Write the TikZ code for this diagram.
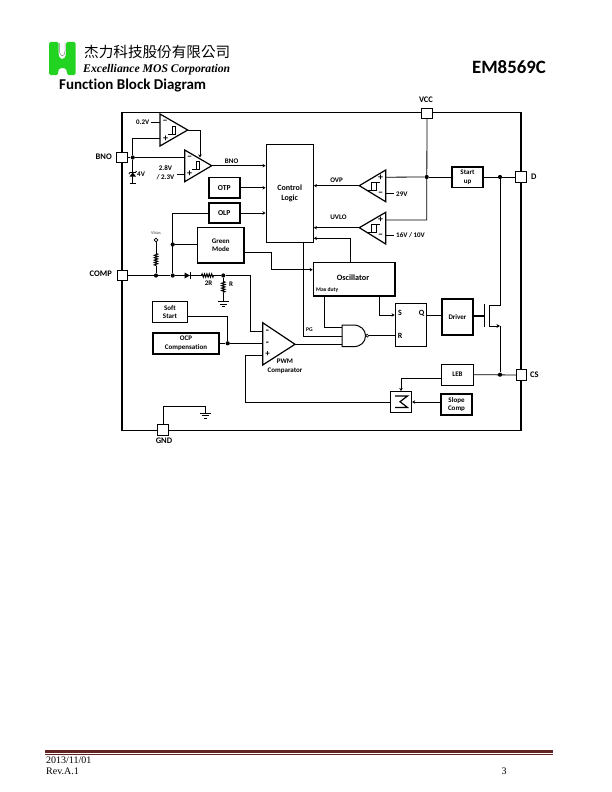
\documentclass[tikz,border=0pt]{standalone}
\usepackage{fontspec}
\setmainfont[Ligatures=NoCommon]{Carlito}
\newfontfamily\serfont{Liberation Serif}
\newfontfamily\cjkfont{Noto Sans CJK TC}
\usetikzlibrary{arrows.meta}
\usetikzlibrary{calc}
\usetikzlibrary{decorations.pathmorphing}
\definecolor{logogreen}{HTML}{22D322}
\definecolor{rulered}{HTML}{622423}
\tikzset{
  pinbox/.style={draw,fill=white,line width=0.8pt,minimum width=10.5pt,minimum height=10.5pt,inner sep=0pt},
  thinbox/.style={draw,line width=0.9pt,inner sep=0pt,align=center,font=\bfseries\fontsize{7}{8.2}\selectfont},
  fatbox/.style={thinbox,line width=1.6pt},
  lab/.style={inner sep=0pt,align=center,font=\bfseries\fontsize{7}{8.6}\selectfont},
  signlab/.style={inner sep=0pt,font=\bfseries\fontsize{10}{10}\selectfont},
  tinylab/.style={inner sep=0pt,font=\bfseries\fontsize{5.6}{6.5}\selectfont},
  pinlab/.style={inner sep=0pt,font=\bfseries\fontsize{8.5}{10}\selectfont},
  dot/.style={circle,fill=black,inner sep=0pt,minimum size=4.2pt},
  wire/.style={line width=0.8pt},
  sig/.style={wire,-{Stealth[length=3pt,width=3.5pt]}},
  tri/.style={line width=1.2pt,line join=miter},
  res/.style={line width=1pt,decorate,decoration={zigzag,segment length=2.4pt,amplitude=1.7pt}}
}
% hysteresis mark inside a comparator, #1 is its lower right reference point
\newcommand{\hystright}[1]{\draw[line width=0.8pt] ($(#1)+(-8,5)$) -- ++(4,0) -- ++(0,-8) -- ++(4,0) ++(-4,8) -- ++(3,0) -- ++(0,-8);}
\newcommand{\gnd}[1]{\draw[line width=1pt] ($(#1)+(-5.5,0)$) -- ++(11,0) ($(#1)+(-3.5,2.5)$) -- ++(7,0) ($(#1)+(-1.5,5)$) -- ++(3,0);}
\begin{document}
\begin{tikzpicture}[x=1pt,y=-1pt]
 \useasboundingbox (0,0) rectangle (612,792);
 \fill[white] (0,0) rectangle (612,792);

 % heading
 \fill[logogreen,rounded corners=1.5pt] (49,42) -- (58.5,42) -- (58.5,52) .. controls (59,61) and (65.5,61) .. (66,52) -- (66,42) -- (75.7,42) -- (75.7,75) -- (67,75) -- (67,71) .. controls (65,67.5) and (60,67.5) .. (58,71) -- (58,75) -- (49,75) -- cycle;
 \draw[gray,line width=0.5pt] (59.5,43) -- (59.5,51) .. controls (60,57.5) and (64.5,57.5) .. (65,51) -- (65,43);
 \node[inner sep=0pt,anchor=west] (zhname) at (84,52) {\cjkfont\fontsize{14.6}{16}\selectfont 杰力科技股份有限公司};
 \node[inner sep=0pt,anchor=west] (enname) at (83,70) {\serfont\bfseries\itshape\fontsize{11.7}{13}\selectfont Excelliance MOS Corporation};
 \node[inner sep=0pt,anchor=west] (title) at (59,85.5) {\bfseries\fontsize{15}{17}\selectfont Function Block Diagram};
 \node[inner sep=0pt,anchor=east] (partno) at (546,67) {\bfseries\fontsize{18.8}{20}\selectfont EM8569C};

 % package outline
 \draw[line width=0.9pt] (122,112.5) -- (521,112.5);
 \draw[line width=0.9pt] (122,430) -- (521,430);
 \draw[line width=1.4pt] (122,112) -- (122,430.5);
 \draw[line width=1.4pt] (521,112) -- (521,430.5);

 % pins
 \node[pinbox] (bno) at (122,157.5) {};
 \node[pinbox] (comp) at (122.5,275.5) {};
 \node[pinbox] (gnd) at (163,430) {};
 \node[pinbox] (vcc) at (427,113.5) {};
 \node[pinbox] (d) at (521,177) {};
 \node[pinbox] (cs) at (521.5,375) {};
 \node[pinlab,anchor=east] (bnolab) at (112,157) {BNO};
 \node[pinlab,anchor=east] (complab) at (112,274) {COMP};
 \node[pinlab] (gndlab) at (164,441) {GND};
 \node[pinlab] (vcclab) at (426,99.5) {VCC};
 \node[pinlab,anchor=west] (dlab) at (531,176.5) {D};
 \node[pinlab,anchor=west] (cslab) at (530,374.5) {CS};

 % blocks
 \node[thinbox,font=\bfseries\fontsize{8}{10}\selectfont,minimum width=47.5pt,minimum height=98.5pt] (logic) at (289.7,193.4) {Control\\Logic};
 \node[fatbox,minimum width=31pt,minimum height=20.5pt] (otp) at (224.2,187.8) {\fontsize{7.6}{8}\selectfont OTP};
 \node[fatbox,minimum width=31pt,minimum height=20.5pt] (olp) at (224.2,213) {\fontsize{7.6}{8}\selectfont OLP};
 \node[fatbox,minimum width=46.5pt,minimum height=35.5pt] (green) at (220.8,245.3) {Green\\Mode};
 \node[fatbox,minimum width=31pt,minimum height=20.5pt] (start) at (467.5,177.3) {Start\\up};
 \node[fatbox,minimum width=81.5pt,minimum height=33.5pt] (osc) at (354.2,279.2) {};
 \node[lab] (osclab) at (353,278) {\fontsize{8.2}{9}\selectfont Oscillator};
 \node[tinylab,anchor=west] (maxduty) at (316,290) {Max duty};
 \node[thinbox,minimum width=31.5pt,minimum height=42.5pt] (sr) at (410.8,325) {};
 \node[lab] (slab) at (400,313) {\fontsize{8}{9}\selectfont S};
 \node[lab] (qlab) at (421.5,313.5) {\fontsize{8}{9}\selectfont Q};
 \node[lab] (rlab) at (400,336) {\fontsize{8}{9}\selectfont R};
 \node[fatbox,minimum width=31.5pt,minimum height=36pt] (driver) at (457.5,317) {Driver};
 \node[thinbox,minimum width=31.5pt,minimum height=20.5pt] (leb) at (457.5,374.7) {LEB};
 \node[fatbox,minimum width=31.5pt,minimum height=21pt] (slope) at (456.5,404.5) {Slope\\Comp};
 \node[thinbox,minimum width=34.5pt,minimum height=20.5pt] (soft) at (170,312) {Soft\\Start};
 \node[fatbox,minimum width=66.5pt,minimum height=21pt] (ocp) at (186,343.3) {OCP\\Compensation};
 \node[thinbox,minimum width=21pt,minimum height=21pt] (sum) at (401.2,401.7) {};
 \draw[line width=1.2pt] (395,396) -- (407.5,396) -- (400,401.7) -- (407.5,407.5) -- (395,407.5);

 % junctions
 \node[dot] (jbno) at (132.7,157.5) {};
 \node[dot] (jvcc) at (426.7,177) {};
 \node[dot] (jd) at (500,177) {};
 \node[dot] (jcs) at (500,374.7) {};
 \node[dot] (jgreen) at (172.7,244.5) {};
 \node[dot] (jbias) at (156,275.5) {};
 \node[dot] (jolp) at (172.7,275.5) {};
 \node[dot] (jr) at (223.3,275.5) {};
 \node[dot] (jocp) at (227.7,343.3) {};

 % sleep comparator
 \draw[tri] (160,114) -- (187.7,130) -- (160,146) -- cycle;
 \coordinate (cmpaout) at (187.7,130);
 \hystright{176,129.5}
 \node[signlab] (cmpam) at (165,122) {--};
 \node[signlab] (cmpap) at (165.5,138.5) {+};
 \node[lab,anchor=east] (vref) at (149.5,122) {0.2V};
 \draw[wire] (151,122) -- (160,122);
 \draw[wire] (jbno) |- (160,138.3);

 % brown-out comparator
 \draw[tri] (184.7,150) -- (211.7,165.7) -- (184.7,181.7) -- cycle;
 \coordinate (cmpbout) at (211.7,165.7);
 \coordinate (cmpbin) at (200,157.5);
 \hystright{200,164}
 \node[signlab] (cmpbm) at (189.5,158) {--};
 \node[signlab] (cmpbp) at (189.5,174) {+};
 \node[lab,anchor=east] (vbno) at (174.5,172.5) {2.8V\\/ 2.3V};
 \draw[wire] (177,174) -- (184.7,174);
 \draw[wire] (bno) -- (jbno) -- (184.7,157.5);
 \draw[sig] (cmpaout) -| (cmpbin);
 \draw[sig] (cmpbout) -- (logic.west |- cmpbout) node[lab,pos=0.37,above=1.5pt] (bnoout) {BNO};

 % zener clamp
 \coordinate (zgnd) at (132.7,183);
 \draw[wire] (jbno) -- (zgnd);
 \fill (132.7,172.5) -- (129.5,176.5) -- (136,176.5) -- cycle;
 \draw[line width=0.9pt] (129,174) -- (130,172.5) -- (135.5,172.5) -- (136.5,171);
 \draw[line width=0.9pt] (129.5,183) -- (136,183);
 \node[lab,anchor=west] (zlab) at (137,174.5) {4V};

 % inputs of control logic
 \draw[sig] (otp.east) -- (logic.west |- otp.east);
 \draw[sig] (olp.east) -- (logic.west |- olp.east);
 \draw[wire] (olp.west) -| (jolp);
 \draw[wire] (jgreen) -- (green.west |- jgreen);
 \coordinate (greenout) at (244.3,252.7);
 \draw[sig] (greenout) -- (271.7,252.7) |- (osc.west |- 0,269.7);

 % bias resistor
 \node[circle,draw,line width=0.7pt,inner sep=0pt,minimum size=3.8pt] (vbias) at (156,240) {};
 \node[inner sep=0pt,text=black!70,font=\fontsize{4.4}{5}\selectfont] (vbiaslab) at (156,232.5) {Vbias};
 \draw[wire] (vbias) -- (156,253.5);
 \draw[res] (156,253.5) -- (156,265.5);
 \draw[wire] (156,265.5) -- (jbias);

 % comp line
 \coordinate (dioa) at (184.5,275.5);
 \coordinate (dioc) at (191,275.5);
 \draw[wire] (comp) -- (jbias) -- (jolp) -- (dioa);
 \fill (dioa) ++(0,-3) -- ++(5.5,3) -- ++(-5.5,3) -- cycle;
 \draw[line width=1pt] (190.5,272) -- (190.5,279);
 \draw[wire] (dioc) -- (201.5,275.5);
 \draw[res] (201.5,275.5) -- (214,275.5);
 \draw[wire] (214,275.5) -- (jr) -- (250.7,275.5) -- (250.7,331.7) -- (262.7,331.7);
 \node[lab] (rtwo) at (208.5,283) {2R};
 \node[lab] (rone) at (231,284) {R};
 \draw[wire] (jr) -- (223.3,281.5);
 \draw[res] (223.3,281.5) -- (223.3,292.5);
 \draw[wire] (223.3,292.5) -- (223.3,301.5);
 \gnd{223.3,301.5}

 % over-voltage and under-voltage comparators
 \draw[tri] (385.7,170) -- (359.3,185.7) -- (385.7,201.7) -- cycle;
 \coordinate (ovpout) at (359.3,185.7);
 \draw[line width=0.8pt] (371,190) rectangle (376,182);
 \draw[line width=0.8pt] (376,182) -- (380,182) (371,190) -- (368,190);
 \node[signlab] (ovpp) at (380.5,177.5) {+};
 \node[signlab] (ovpm) at (380.5,193.5) {--};
 \draw[wire] (385.7,177.2) -- (jvcc);
 \draw[wire] (385.7,193.5) -- (394,193.5);
 \node[lab,anchor=west] (ovpref) at (396,194.5) {29V};
 \draw[sig] (ovpout) -- (logic.east |- ovpout) node[lab,pos=0.5,above=2.5pt] (ovplab) {OVP};

 \draw[tri] (385.7,212.3) -- (359.3,227.7) -- (385.7,244) -- cycle;
 \coordinate (uvloout) at (359.3,227.7);
 \draw[line width=0.8pt] (371,232) rectangle (376,224);
 \draw[line width=0.8pt] (376,224) -- (380,224) (371,232) -- (368,232);
 \node[signlab] (uvlop) at (380.5,219.8) {+};
 \node[signlab] (uvlom) at (380.5,235.7) {--};
 \draw[wire] (vcc) -- (426.7,220) -- (385.7,220);
 \draw[wire] (385.7,235.7) -- (394,235.7);
 \node[lab,anchor=west] (uvloref) at (396,235.5) {16V / 10V};
 \draw[sig] (uvloout) -- (logic.east |- uvloout);
 \node[lab] (uvlolab) at (338.5,217.5) {UVLO};
 \draw[sig] (osc.north -| 350.7,0) -- (350.7,238.3) -- (logic.east |- 0,238.3);

 % start-up and drain line
 \draw[wire] (jvcc) -- (start.west |- jvcc);
 \draw[wire] (start.east |- jd) -- (d);
 \draw[wire] (jd) -- (500,305) -- (489.3,305);

 % power switch
 \draw[line width=1pt] (489.3,305) -- (489.3,326);
 \draw[line width=1pt] (484.3,304) -- (484.3,327);
 \draw[line width=1.4pt] (driver.east |- 0,316) -- (484.3,316);
 \draw[-{Stealth[length=3.5pt,width=4pt]},line width=0.8pt] (489.3,326) -- (500,326);
 \draw[wire] (500,326) -- (jcs);

 % oscillator, flip-flop, gate
 \draw[sig] (379.3,296) |- (sr.west |- 0,315);
 \draw[wire] (324.3,296) |- (342,327.5);
 \draw[wire] (sr.east |- 0,315) -- (driver.west |- 0,315);

 % gate with inverted output
 \coordinate (nandtip) at (365.5,335.7);
 \draw[line width=1pt,fill=white] (342,325) -- (353,325) .. controls (361,325) and (365.5,330) .. (nandtip) .. controls (365.5,342) and (361,346.7) .. (353,346.7) -- (342,346.7) -- cycle;
 \node[circle,draw,fill=white,line width=0.7pt,inner sep=0pt,minimum size=3pt] (nandinv) at (367.2,335.7) {};
 \draw[wire] (nandinv) -- (sr.west |- nandinv);
 \draw[wire] (logic.south -| 303,0) -- (303,336) -- (342,336);
 \node[tinylab] (pglab) at (309.5,330) {PG};

 % PWM comparator
 \draw[tri] (262.7,322.7) -- (295,344.3) -- (262.7,365) -- cycle;
 \coordinate (pwmout) at (295,344.3);
 \node[signlab] (pwmm) at (267.5,331.7) {-};
 \node[signlab] (pwmn) at (267.5,343.5) {-};
 \node[lab] (pwmp) at (267.5,354.5) {\fontsize{9}{9}\selectfont +};
 \node[lab] (pwmlab) at (285,366.5) {PWM\\Comparator};
 \draw[wire] (pwmout) -- (342,344.3);
 \draw[wire] (ocp.east) -- (jocp) -- (262.7,343.3);
 \draw[wire] (soft.east |- 0,316.3) -| (jocp);
 \draw[wire] (262.7,355) -- (245.7,355) -- (245.7,402) -- (sum.west |- 0,402);

 % current sense path
 \draw[wire] (leb.east |- jcs) -- (cs);
 \draw[sig] (leb.west |- 0,378.3) -- (401,378.3) -- (401,391);
 \draw[sig] (slope.west |- 0,402) -- (sum.east |- 0,402);

 % ground pin
 \draw[wire] (gnd) -- (163,406) -- (205.7,406) -- (205.7,413);
 \gnd{205.7,413}

 % page foot
 \fill[rulered] (45,750) rectangle (553,753.2);
 \fill[rulered] (45,754.2) rectangle (553,755);
 \node[inner sep=0pt,anchor=west] (datelab) at (46,760) {\serfont\fontsize{10}{12}\selectfont 2013/11/01};
 \node[inner sep=0pt,anchor=west] (revlab) at (46,771) {\serfont\fontsize{10}{12}\selectfont Rev.A.1};
 \node[inner sep=0pt] (pagelab) at (504,771) {\serfont\fontsize{10}{12}\selectfont 3};
\end{tikzpicture}
\end{document}
